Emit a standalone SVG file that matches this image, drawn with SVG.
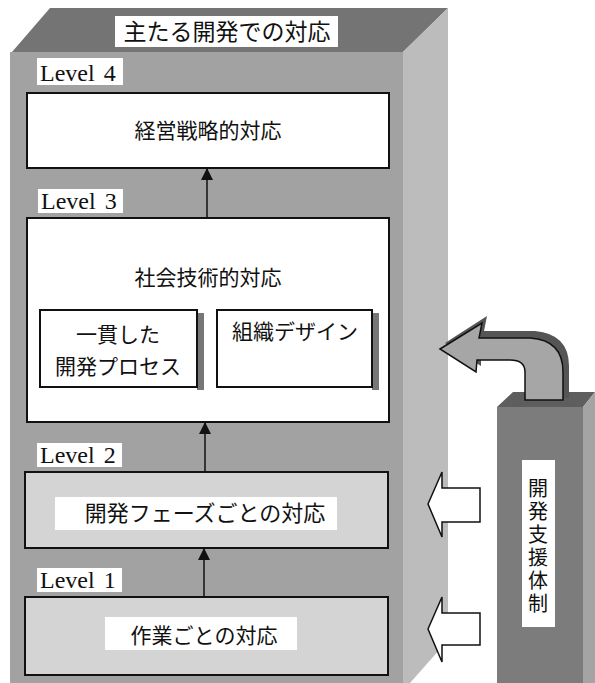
<svg xmlns="http://www.w3.org/2000/svg" width="595" height="683" viewBox="0 0 595 683">
<style>
.jp{font-family:"Noto Sans CJK JP","Noto Sans",sans-serif;fill:#111;text-anchor:middle}
.lv{font-family:"Liberation Serif","DejaVu Serif",serif;font-size:24px;fill:#111;word-spacing:3px}
.wbox{fill:#fff;stroke:#111;stroke-width:2}
.gbox{fill:#d4d4d4;stroke:#111;stroke-width:2}
.lab{fill:#fff}
.conn{stroke:#111;stroke-width:1.5;fill:none}
.barrow{fill:#fff;stroke:#111;stroke-width:1.5}
.vt{font-family:"Noto Sans CJK JP","Noto Sans",sans-serif;fill:#111;font-size:20px;writing-mode:vertical-rl;letter-spacing:3px}
</style>
<defs>
<marker id="ah" viewBox="0 0 12 12" refX="12" refY="6" markerWidth="12" markerHeight="12" markerUnits="userSpaceOnUse" orient="auto">
<path d="M0,0 L12,6 L0,12 Z" fill="#111"/>
</marker>
</defs>
<rect width="595" height="683" fill="#fff"/>

<g id="main-box">
<polygon points="50,8 448,8 403,52 12,52" fill="#747474"/>
<polygon points="403,52 448,8 448,640 410,683 403,683" fill="#bcbcbc"/>
<rect x="10" y="52" width="393" height="631" fill="#a2a2a2"/>
</g>

<g id="title">
<rect class="lab" x="115" y="16" width="223" height="31"/>
<text class="jp" x="227" y="40" font-size="23">主たる開発での対応</text>
</g>

<g id="level4">
<rect class="lab" x="37" y="58" width="86" height="27"/>
<text class="lv" x="40" y="81">Level 4</text>
<rect class="wbox" x="27" y="93" width="362" height="75"/>
<text class="jp" x="208" y="138" font-size="21">経営戦略的対応</text>
</g>

<g id="level3">
<rect class="lab" x="38" y="189" width="85" height="24"/>
<text class="lv" x="41" y="209">Level 3</text>
<rect class="wbox" x="27" y="218" width="362" height="204"/>
<text class="jp" x="208" y="285" font-size="21">社会技術的対応</text>
</g>

<g id="process">
<rect x="197" y="313" width="7" height="77" fill="#777"/>
<rect class="wbox" x="40" y="310" width="157" height="77" stroke-width="1.5"/>
<text class="jp" x="118" y="342" font-size="21">一貫した</text>
<text class="jp" x="118" y="374" font-size="21">開発プロセス</text>
</g>

<g id="org-design">
<rect x="372" y="313" width="7" height="77" fill="#777"/>
<rect class="wbox" x="217" y="310" width="155" height="77" stroke-width="1.5"/>
<text class="jp" x="295" y="339" font-size="21">組織デザイン</text>
</g>

<g id="level2">
<rect class="lab" x="37" y="443" width="85" height="24"/>
<text class="lv" x="40" y="463">Level 2</text>
<rect class="gbox" x="25" y="472" width="363" height="76"/>
<rect class="lab" x="55" y="497" width="282" height="33"/>
<text class="jp" x="205" y="521" font-size="22">開発フェーズごとの対応</text>
</g>

<g id="level1">
<rect class="lab" x="37" y="568" width="85" height="24"/>
<text class="lv" x="40" y="588">Level 1</text>
<rect class="gbox" x="25" y="597" width="363" height="78"/>
<rect class="lab" x="105" y="617" width="192" height="33"/>
<text class="jp" x="204" y="643" font-size="21">作業ごとの対応</text>
</g>

<g id="support-pillar">
<polygon points="497,407 513,392 595,392 583,407" fill="#5e5e5e"/>
<rect x="497" y="407" width="86" height="276" fill="#7c7c7c"/>
<polygon points="583,407 595,392 595,683 583,683" fill="#a4a4a4"/>
<rect class="lab" x="522" y="460" width="33" height="167"/>
<text class="vt" x="538" y="478">開発支援体制</text>
</g>

<g id="connectors">
<line class="conn" x1="207" y1="218" x2="207" y2="168" marker-end="url(#ah)"/>
<line class="conn" x1="205" y1="472" x2="205" y2="422" marker-end="url(#ah)"/>
<line class="conn" x1="204" y1="597" x2="204" y2="548" marker-end="url(#ah)"/>
<polygon class="barrow" points="428,504 442,472 442,488 480,488 480,522 442,522 442,537"/>
<polygon class="barrow" points="428,629 442,597 442,613 480,613 480,645 442,645 442,662"/>
<path d="M445,343 L487,316 L484,331 L535,331 Q569,334 569,366 L569,398 L531,400 L531,366 Q531,354 516,354 L481,354 L481,366 Z" fill="#555"/>
<path d="M440,349 L482,323 L479,338 L530,338 Q563,340 563,372 L563,400 L525,400 L525,372 Q525,360 510,360 L477,360 L476,372 Z" fill="#a6a6a6" stroke="#111" stroke-width="1.5"/>
</g>
</svg>
